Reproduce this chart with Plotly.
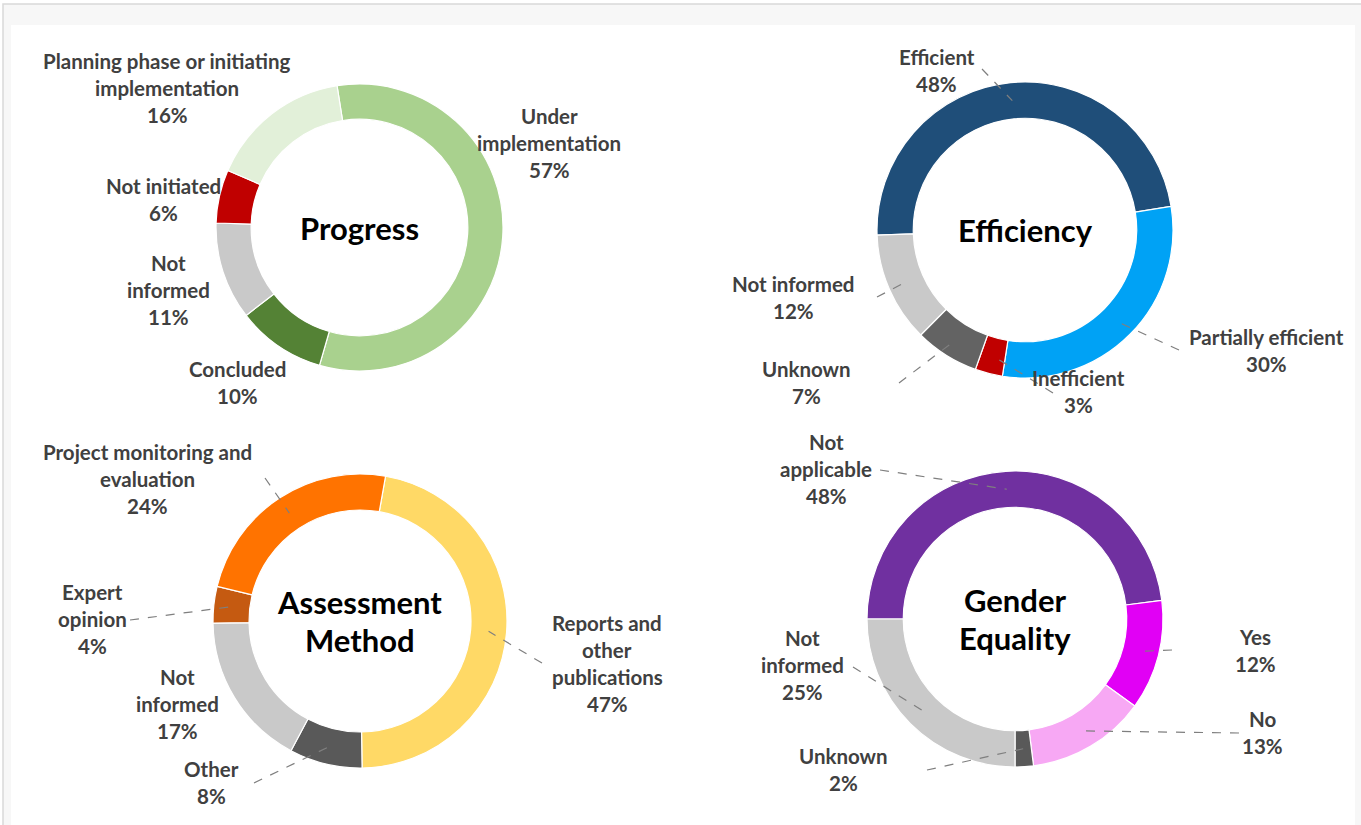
import math
import plotly.graph_objects as go

# ---------------- data ----------------
progress_cats = ["Under<br>implementation", "Concluded", "Not<br>informed", "Not initiated",
                 "Planning phase or initiating<br>implementation"]
progress_vals = [57, 10, 11, 6, 16]

efficiency_cats = ["Efficient", "Partially efficient", "Inefficient", "Unknown", "Not informed"]
efficiency_vals = [48, 30, 3, 7, 12]

assessment_cats = ["Reports and<br>other<br>publications", "Other", "Not<br>informed", "Expert<br>opinion",
                   "Project monitoring and<br>evaluation"]
assessment_vals = [47, 8, 17, 4, 24]

gender_cats = ["Not<br>applicable", "Yes", "No", "Unknown", "Not<br>informed"]
gender_vals = [48, 12, 13, 2, 25]

# ---------------- styles ----------------
progress_colors = ["#A9D18E", "#548235", "#C9C9C9", "#C00000", "#E2F0D9"]
efficiency_colors = ["#1F4E79", "#00A2F5", "#C00000", "#636363", "#C9C9C9"]
assessment_colors = ["#FFD966", "#595959", "#C9C9C9", "#C55A11", "#FF7300"]
gender_colors = ["#7030A0", "#E100F5", "#F7A8F4", "#595959", "#C9C9C9"]

W, H = 1361, 825


def px(x):
    return x / W


def py(y):
    return 1 - y / H


charts = [
    dict(title=["Progress"], cats=progress_cats, vals=progress_vals, colors=progress_colors,
         center=(359.5, 227.5), r=143.5, start=351,
         label_pos=[(549, 116), (237, 369), (168, 263), (163, 186), (167, 61)],
         leader=[None, None, None, None, None]),
    dict(title=["Efficiency"], cats=efficiency_cats, vals=efficiency_vals, colors=efficiency_colors,
         center=(1025, 230), r=148, start=268,
         label_pos=[(937, 57), (1266, 337), (1078, 378), (806, 369), (793, 284)],
         leader=[(982, 69), (1179, 350), (1053, 393), (899, 383), (877, 297)]),
    dict(title=["Assessment", "Method"], cats=assessment_cats, vals=assessment_vals, colors=assessment_colors,
         center=(360, 621), r=147, start=10,
         label_pos=[(607, 623), (211, 769), (177, 677), (92, 592), (147, 452)],
         leader=[(542, 663), (254, 783), None, (130, 620), (265, 478)]),
    dict(title=["Gender", "Equality"], cats=gender_cats, vals=gender_vals, colors=gender_colors,
         center=(1015, 619), r=148, start=270,
         label_pos=[(826, 442), (1255, 637), (1262, 719), (843, 756), (802, 638)],
         leader=[(880, 470), (1172, 650), (1239, 733), (927, 770), (853, 667)]),
]

LINE = 27
fig = go.Figure()
annotations = []
shapes = [
    # page frame
    dict(type="rect", xref="paper", yref="paper", x0=px(3), x1=px(W + 10), y0=py(H + 10), y1=py(4),
         line=dict(color="#D9D9D9", width=1.5), fillcolor="#F7F7F7", layer="below"),
    dict(type="rect", xref="paper", yref="paper", x0=px(11), x1=px(1355), y0=py(H + 10), y1=py(25),
         line=dict(width=0), fillcolor="#FFFFFF", layer="below"),
]

for ch in charts:
    cx, cy = ch["center"]
    r = ch["r"]
    rot = ch["start"] if ch["start"] <= 180 else ch["start"] - 360
    fig.add_trace(go.Pie(
        labels=[c.replace("<br>", " ") for c in ch["cats"]],
        values=ch["vals"],
        sort=False, direction="clockwise", rotation=rot, hole=0.755,
        marker=dict(colors=ch["colors"], line=dict(color="#FFFFFF", width=1.2)),
        textinfo="none", hoverinfo="label+percent", showlegend=False,
        domain=dict(x=[px(cx - r), px(cx + r)], y=[py(cy + r), py(cy - r)]),
    ))
    # centre title
    n = len(ch["title"])
    for i, t in enumerate(ch["title"]):
        yy = cy + (i - (n - 1) / 2) * 38
        annotations.append(dict(x=px(cx), y=py(yy), xref="paper", yref="paper", text=t, showarrow=False,
                                xanchor="center", yanchor="middle",
                                font=dict(family="Lato", size=31, color="#000000", weight="bold")))
    # slice labels and leader lines
    total = sum(ch["vals"])
    acc = 0
    for cat, v, (lx, ly), ld in zip(ch["cats"], ch["vals"], ch["label_pos"], ch["leader"]):
        mid = ch["start"] + (acc + v / 2) / total * 360
        acc += v
        lines = cat.split("<br>") + [f"{round(v / total * 100)}%"]
        for i, t in enumerate(lines):
            annotations.append(dict(x=px(lx), y=py(ly + i * LINE), xref="paper", yref="paper", text=t,
                                    showarrow=False, xanchor="center", yanchor="middle",
                                    font=dict(family="Lato", size=20.5, color="#404040", weight="bold")))
        if ld is not None:
            rr = r - 18
            ex = cx + rr * math.sin(math.radians(mid))
            ey = cy - rr * math.cos(math.radians(mid))
            shapes.append(dict(type="line", xref="paper", yref="paper", x0=px(ld[0]), y0=py(ld[1]),
                               x1=px(ex), y1=py(ey), line=dict(color="#7F7F7F", width=1.2, dash="dash")))

fig.update_layout(
    width=W, height=H, margin=dict(l=0, r=0, t=0, b=0),
    paper_bgcolor="#FFFFFF", plot_bgcolor="#FFFFFF",
    annotations=annotations, shapes=shapes,
)
fig.write_html("out.html", config={"displayModeBar": False},
               post_script="document.body.style.margin='0';document.body.style.overflow='hidden';")
